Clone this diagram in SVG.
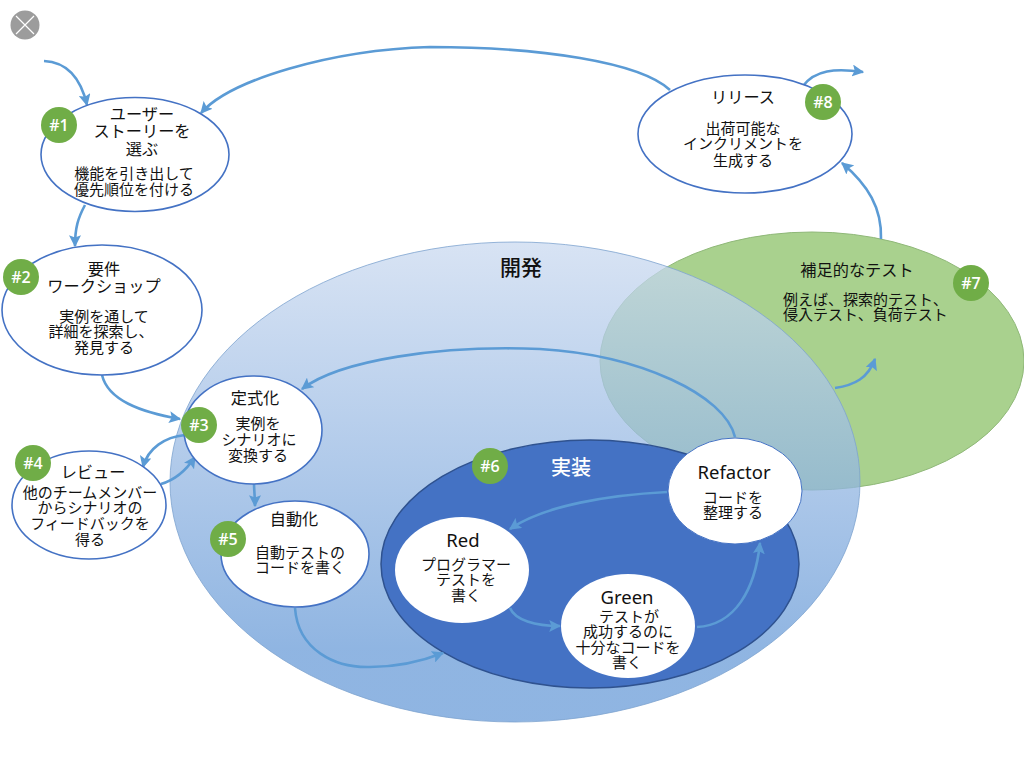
<svg xmlns="http://www.w3.org/2000/svg" width="1024" height="768" viewBox="0 0 1024 768">
<style>
text{font-family:"Noto Sans CJK JP","Noto Sans",sans-serif;fill:#111;text-anchor:middle;font-size:15px}
.h{font-size:16.2px}
.lat{font-family:"Noto Sans","Noto Sans CJK JP",sans-serif;font-size:18.5px}
.st{text-anchor:start}
.n{fill:#fff;stroke:#4472c4;stroke-width:1.6}
.i{fill:#fff}
.b{fill:#70ad47}
.bt{fill:#fff;font-family:"Open Sans","Noto Sans",sans-serif;font-size:16px;font-weight:600}
.c{fill:none;stroke:#5b9bd5;stroke-width:2.6;marker-end:url(#a)}
</style>
<defs>
<marker id="a" viewBox="0 0 10 10" refX="9" refY="5" markerWidth="12" markerHeight="12" markerUnits="userSpaceOnUse" orient="auto"><path d="M0 0L10 5L0 10L2 5Z" fill="#5b9bd5"/></marker>
<linearGradient id="dev" x1="0" y1="0" x2="0" y2="1"><stop offset="0" stop-color="#cbdaf0"/><stop offset=".85" stop-color="#6a9cd8"/><stop offset="1" stop-color="#6a9cd8"/></linearGradient>
</defs>
<rect width="1024" height="768" fill="#fff"/>
<g id="close"><circle cx="25" cy="25" r="14.5" fill="#9c9c9c"/><path d="M16 16L34 34M34 16L16 34" stroke="#fff" stroke-width="1.2"/></g>
<g id="node7-area"><ellipse cx="812" cy="361" rx="212" ry="129" fill="#a9d18e" stroke="#8fb878"/></g>
<g id="dev"><ellipse cx="515" cy="482" rx="345" ry="240" fill="url(#dev)" fill-opacity=".75" stroke="#7ea3cf" stroke-width=".8"/><text x="521" y="275" style="font-size:21px;font-weight:500">開発</text></g>
<g id="impl"><ellipse cx="590" cy="564" rx="209" ry="124" fill="#4472c4" stroke="#2f528f" stroke-width="1.5"/><text x="571" y="475" style="font-size:20px;fill:#fff;font-weight:500">実装</text></g>
<g id="connectors">
<path class="c" d="M44 61C65 62 80 75 87 105"/>
<path class="c" d="M670 90C640 62 540 47 430 47C330 50 230 80 201 113"/>
<path class="c" d="M85 205C78 218 75 228 75 246"/>
<path class="c" d="M102 375C108 400 140 412 180 419"/>
<path class="c" d="M185 435C165 437 148 448 143 467"/>
<path class="c" d="M161 484C175 480 185 472 195 457"/>
<path class="c" d="M254 483C254 490 255 497 255 506"/>
<path class="c" d="M295 608C298 650 335 668 370 667C395 667 420 662 443 653"/>
<path class="c" d="M667 492C610 495 545 505 510 529"/>
<path class="c" d="M510 608C515 620 535 626 560 626"/>
<path class="c" d="M697 627C735 625 755 590 760 543"/>
<path class="c" d="M735 437C725 395 640 355 540 349C440 345 340 360 302 389"/>
<path class="c" d="M835 388C855 385 868 378 875 359"/>
<path class="c" d="M881 239C882 208 868 185 842 163"/>
<path class="c" d="M803 86C815 70 835 68 863 72"/>
</g>
<g id="node1"><ellipse class="n" cx="135" cy="154.5" rx="94" ry="57"/><circle class="b" cx="59" cy="125" r="18"/><text class="bt" x="59" y="130.500">#1</text><text class="h" x="142" y="120">ユーザー</text><text class="h" x="142" y="137">ストーリーを</text><text class="h" x="142" y="155">選ぶ</text><text x="134" y="179">機能を引き出して</text><text x="134" y="195">優先順位を付ける</text></g>
<g id="node2"><ellipse class="n" cx="102" cy="310" rx="100" ry="65"/><circle class="b" cx="21" cy="277" r="18"/><text class="bt" x="21" y="282.500">#2</text><text class="h" x="104" y="275">要件</text><text class="h" x="104" y="292">ワークショップ</text><text x="104" y="322">実例を通して</text><text x="101" y="337">詳細を探索し、</text><text x="104" y="353">発見する</text></g>
<g id="node3"><ellipse class="n" cx="253" cy="430" rx="69" ry="54"/><circle class="b" cx="199" cy="425" r="18"/><text class="bt" x="199" y="430.500">#3</text><text class="h" x="255" y="404">定式化</text><text x="258" y="429">実例を</text><text x="259" y="445">シナリオに</text><text x="258" y="461">変換する</text></g>
<g id="node4"><ellipse class="n" cx="89" cy="505" rx="77" ry="54"/><circle class="b" cx="33" cy="463" r="18"/><text class="bt" x="33" y="468.500">#4</text><text class="h" x="93" y="478">レビュー</text><text x="90" y="498">他のチームメンバー</text><text x="90" y="513">からシナリオの</text><text x="90" y="529">フィードバックを</text><text x="90" y="545">得る</text></g>
<g id="node5"><ellipse class="n" cx="295" cy="554" rx="74" ry="53"/><circle class="b" cx="228" cy="539" r="18"/><text class="bt" x="228" y="544.500">#5</text><text class="h" x="294" y="525">自動化</text><text x="300" y="558">自動テストの</text><text x="300" y="573">コードを書く</text></g>
<g id="node6"><circle class="b" cx="490" cy="466" r="18"/><text class="bt" x="490" y="471.500">#6</text></g>
<g id="red"><ellipse class="i" cx="462" cy="570" rx="67" ry="53"/><text class="lat" x="463" y="547">Red</text><text x="466" y="570">プログラマー</text><text x="466" y="585">テストを</text><text x="466" y="601">書く</text></g>
<g id="green"><ellipse class="i" cx="628" cy="626" rx="67" ry="52"/><text class="lat" x="627" y="604">Green</text><text x="629" y="622">テストが</text><text x="628" y="637">成功するのに</text><text x="628" y="653">十分なコードを</text><text x="627" y="668">書く</text></g>
<g id="refactor"><ellipse class="i" cx="735" cy="491" rx="67" ry="53" stroke="#4472c4" stroke-width="1"/><text class="lat" x="734" y="479">Refactor</text><text x="733" y="503">コードを</text><text x="733" y="518">整理する</text></g>
<g id="node7"><circle class="b" cx="971" cy="283" r="18"/><text class="bt" x="971" y="288.500">#7</text><text class="h" x="857" y="276">補足的なテスト</text><text class="st" x="783" y="305">例えば、探索的テスト、</text><text class="st" x="783" y="320">侵入テスト、負荷テスト</text></g>
<g id="node8"><ellipse class="n" cx="745" cy="134" rx="107" ry="59"/><circle class="b" cx="823" cy="102" r="18"/><text class="bt" x="823" y="107.500">#8</text><text class="h" x="743" y="103">リリース</text><text x="743" y="134">出荷可能な</text><text x="743" y="149">インクリメントを</text><text x="743" y="166">生成する</text></g>
</svg>
